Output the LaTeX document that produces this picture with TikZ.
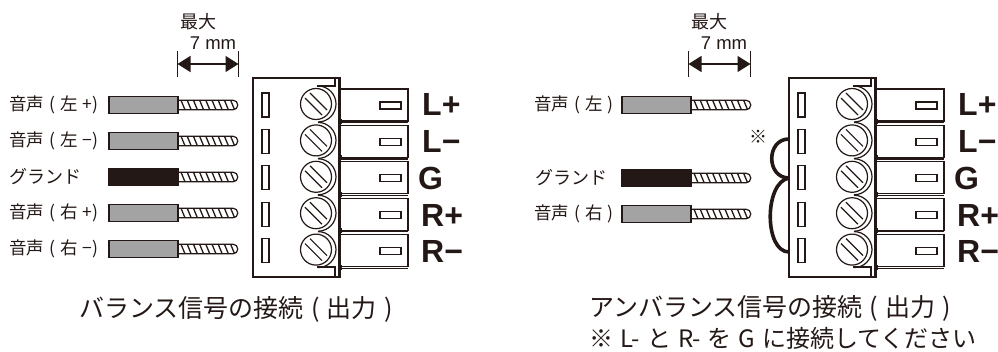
\documentclass[tikz,border=0pt]{standalone}
\usepackage{fontspec}
\setmainfont{Liberation Sans}
\newfontfamily\jpfont[WordSpace=1.3]{Noto Sans CJK JP}
\usetikzlibrary{arrows.meta}
\definecolor{inkblack}{HTML}{231815}
\definecolor{sheathgray}{HTML}{A3A3A3}
\tikzset{
  part/.style={draw=inkblack,line width=1.2pt},
  jptext/.style={inner sep=0pt,text=inkblack,font=\jpfont\fontsize{17.5}{19}\selectfont},
  kanatext/.style={inner sep=0pt,text=inkblack,font=\jpfont\fontsize{18}{20}\selectfont},
  captext/.style={inner sep=0pt,text=inkblack,font=\jpfont\fontsize{25}{28}\selectfont},
  mmtext/.style={inner sep=0pt,text=inkblack,font=\fontsize{18.5}{20}\selectfont},
  pintext/.style={inner sep=0pt,anchor=base west,text=inkblack,font=\bfseries\fontsize{32}{34}\selectfont},
  jumper/.style={draw=inkblack,line width=3.6pt},
  dimline/.style={draw=inkblack,line width=1.3pt,{Triangle[length=13pt,width=16pt]}-{Triangle[length=13pt,width=16pt]}},
  pics/wire/.style={code={
    \draw[part,fill=white] (69,-4.8) -- (124,-4.8) arc (-90:90:4.8) -- (69,4.8);
    \foreach \k in {0,...,8}
      \draw[part,line width=1.3pt] (72+6.2*\k,-4.8) -- (76+6.2*\k,4.8);
    \draw[part,fill=#1] (0,-8.5) rectangle (69,8.5);
  }},
  pics/block/.style={code={
    \foreach \i in {0,...,4} {
      \draw[part] (87,11+36.4*\i) rectangle (155,43+36.4*\i);
      \draw[part] (87,44.5+36.4*\i) -- (155,44.5+36.4*\i);
      \draw[part] (127,24+36.4*\i) rectangle (148,31+36.4*\i);
      \fill[inkblack] (85,41+36.4*\i) rectangle (89,46+36.4*\i);
    }
    \draw[part,fill=white] (0,0) rectangle (87,199);
    \fill[inkblack] (85,0) -- (87,3) -- (87,196) -- (85,199) -- cycle;
    \draw[part] (64,8) -- (82,8) -- (82,0);
    \draw[part] (64,189) -- (82,189) -- (82,199);
    \foreach \i in {0,...,4} {
      \draw[part] (9,15+36.4*\i) rectangle (16,39+36.4*\i);
      \draw[part] (65,8+36.4*\i) arc (-90:90:18);
      \draw[part] (63,26+36.4*\i) circle (15.5);
      \draw[part] (52,20+36.4*\i) -- (69,37+36.4*\i);
      \draw[part] (57,15+36.4*\i) -- (74,32+36.4*\i);
    }
  }}
}
\begin{document}
\begin{tikzpicture}[x=1pt,y=-1pt]
  \useasboundingbox (0,0) rectangle (998,351);

  % balanced side
  \pic at (109,105) {wire=sheathgray};
  \pic at (109,141) {wire=sheathgray};
  \pic at (109,177) {wire=inkblack};
  \pic at (109,213) {wire=sheathgray};
  \pic at (109,249) {wire=sheathgray};
  \pic at (253,78) {block};

  \node[jptext,anchor=west] (balLp) at (9,105)  {音声 ( 左 +)};
  \node[jptext,anchor=west] (balLm) at (9,141)  {音声 ( 左 −)};
  \node[kanatext,anchor=west] (balG)  at (9,177)  {グランド};
  \node[jptext,anchor=west] (balRp) at (9,213)  {音声 ( 右 +)};
  \node[jptext,anchor=west] (balRm) at (9,249)  {音声 ( 右 −)};

  \node[kanatext] (balMax) at (198,22) {最大};
  \node[mmtext] (balMm)  at (213,43) {7 mm};
  \coordinate (balA) at (177.5,64);
  \coordinate (balB) at (238.5,64);
  \draw[dimline] (balA) -- (balB);
  \draw[part] (balA) ++(0,-13) -- ++(0,26);
  \draw[part] (balB) ++(0,-13) -- ++(0,26);

  \node[pintext] (balP1) at (422,115) {L+};
  \node[pintext] (balP2) at (422,152) {L−};
  \node[pintext] (balP3) at (418,189) {G};
  \node[pintext] (balP4) at (421,226) {R+};
  \node[pintext] (balP5) at (421,262) {R−};

  \node[captext] (balCap) at (236,309) {バランス信号の接続 ( 出力 )};

  % unbalanced side
  \pic at (622,105) {wire=sheathgray};
  \pic at (622,178) {wire=inkblack};
  \pic at (622,214) {wire=sheathgray};
  \pic at (789,78) {block};

  \node[jptext,anchor=west] (unbL) at (534,105) {音声 ( 左 )};
  \node[kanatext,anchor=west] (unbG) at (535,178) {グランド};
  \node[jptext,anchor=west] (unbR) at (534,214) {音声 ( 右 )};

  \node[kanatext] (unbMax) at (709,22) {最大};
  \node[mmtext] (unbMm)  at (724,43) {7 mm};
  \coordinate (unbA) at (688.5,64);
  \coordinate (unbB) at (750.5,64);
  \draw[dimline] (unbA) -- (unbB);
  \draw[part] (unbA) ++(0,-13) -- ++(0,26);
  \draw[part] (unbB) ++(0,-13) -- ++(0,26);

  \node[pintext] (unbP1) at (958,115) {L+};
  \node[pintext] (unbP2) at (958,152) {L−};
  \node[pintext] (unbP3) at (954,189) {G};
  \node[pintext] (unbP4) at (957,226) {R+};
  \node[pintext] (unbP5) at (957,262) {R−};

  \node[kanatext] (unbMark) at (758,137) {※};
  \coordinate (jumpL) at (789,139);
  \coordinate (jumpG) at (789,178);
  \coordinate (jumpR) at (789,252);
  \draw[jumper] (jumpL) .. controls (766,139) and (766,178) .. (jumpG);
  \draw[jumper] (jumpG) .. controls (764,182) and (764,252) .. (jumpR);

  \node[captext,anchor=west] (unbCap)  at (589,308) {アンバランス信号の接続 ( 出力 )};
  \node[captext,anchor=west,font=\jpfont\fontsize{24}{26}\selectfont] (unbNote) at (589,338) {※ L- と R- を G に接続してください};

\end{tikzpicture}
\end{document}
